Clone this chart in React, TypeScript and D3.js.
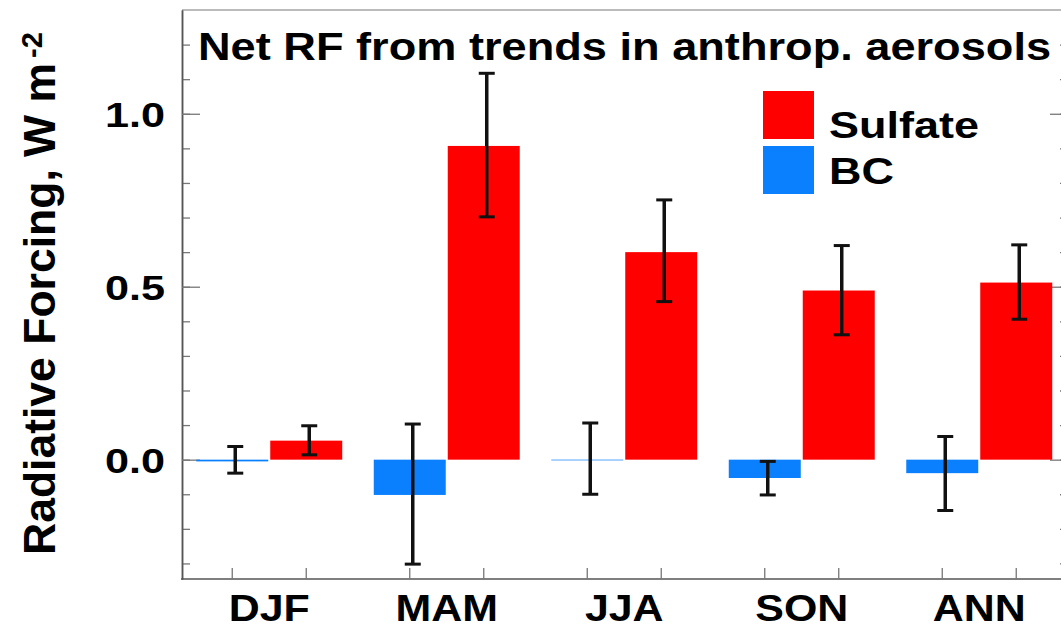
import { useRef, useEffect } from "react";
import * as d3 from "d3";

// seasons and series
const seasons = ["DJF", "MAM", "JJA", "SON", "ANN"];
const seriesNames = ["BC", "Sulfate"];
// values (W m-2), with error bar ends
const bcValues = [-0.005, -0.102, -0.002, -0.053, -0.039];
const bcHigh = [0.038, 0.103, 0.106, -0.005, 0.067];
const bcLow = [-0.039, -0.302, -0.1, -0.102, -0.147];
const sulfateValues = [0.055, 0.907, 0.6, 0.489, 0.512];
const sulfateHigh = [0.098, 1.117, 0.751, 0.619, 0.621];
const sulfateLow = [0.014, 0.702, 0.457, 0.361, 0.406];
const yTicks = [0, 0.5, 1.0];
const yTickLabels = ["0.0", "0.5", "1.0"];
const title = "Net RF from trends in anthrop. aerosols";
const yLabel = "Radiative Forcing, W m";
const yLabelSup = "-2";

const colors: Record<string, string> = { BC: "#0a80ff", Sulfate: "#ff0000" };
const font = "'Liberation Sans', Arial, Helvetica, sans-serif";

const App = () => {
  const svgRef = useRef<SVGSVGElement>(null);

  useEffect(() => {
    const svg = d3.select(svgRef.current);
    svg.selectAll("*").remove();
    const left = 182;
    const right = 1068;
    const top = 10;
    const bottom = 579;

    // scales
    const y = d3.scaleLinear().domain([-0.345, 1.3]).range([bottom, top]);
    const x0 = d3.scaleBand().domain(seasons).range([180.5, 1068]);
    const x1 = d3
      .scaleBand()
      .domain(seriesNames)
      .range([0, x0.bandwidth()])
      .paddingInner(0.027)
      .paddingOuter(0.213);

    const rows = seasons.flatMap((s, i) => [
      { season: s, key: "BC", v: bcValues[i], hi: bcHigh[i], lo: bcLow[i] },
      { season: s, key: "Sulfate", v: sulfateValues[i], hi: sulfateHigh[i], lo: sulfateLow[i] },
    ]);
    const cx = (d) => (x0(d.season) as number) + (x1(d.key) as number) + x1.bandwidth() / 2;

    // frame: top line
    svg
      .append("line")
      .attr("x1", left)
      .attr("x2", right)
      .attr("y1", top)
      .attr("y2", top)
      .attr("stroke", "#bbb")
      .attr("stroke-width", 2);

    // y axes (minor + major ticks, left and right)
    const minor = d3.range(-3, 13).map((d) => d / 10);
    const styleAxis = (g) => {
      g.selectAll("path").attr("stroke", "#555").attr("stroke-width", 1.5);
      g.selectAll("line").attr("stroke", "#777").attr("stroke-width", 1.3);
      g.selectAll("text").remove();
    };
    svg
      .append("g")
      .attr("transform", `translate(${left},0)`)
      .call(d3.axisLeft(y).tickValues(minor).tickSize(-8).tickSizeOuter(0))
      .call(styleAxis);
    svg
      .append("g")
      .attr("transform", `translate(${left},0)`)
      .call(d3.axisLeft(y).tickValues(yTicks).tickSize(-18).tickSizeOuter(0))
      .call(styleAxis);
    svg
      .append("g")
      .attr("transform", `translate(${right},0)`)
      .call(d3.axisRight(y).tickValues(minor).tickSize(-8).tickSizeOuter(0))
      .call(styleAxis);
    svg
      .append("g")
      .attr("transform", `translate(${right},0)`)
      .call(d3.axisRight(y).tickValues(yTicks).tickSize(-18).tickSizeOuter(0))
      .call(styleAxis);

    // bottom axis
    svg
      .append("line")
      .attr("x1", left - 1)
      .attr("x2", right)
      .attr("y1", bottom)
      .attr("y2", bottom)
      .attr("stroke", "#555")
      .attr("stroke-width", 1.5);
    svg
      .selectAll(".xtick")
      .data(rows)
      .join("line")
      .attr("x1", cx)
      .attr("x2", cx)
      .attr("y1", bottom)
      .attr("y2", bottom - 11)
      .attr("stroke", "#777")
      .attr("stroke-width", 1.3);

    // bars
    svg
      .selectAll(".bar")
      .data(rows)
      .join("rect")
      .attr("x", (d) => (x0(d.season) as number) + (x1(d.key) as number))
      .attr("width", x1.bandwidth())
      .attr("y", (d) => y(Math.max(0, d.v)))
      .attr("height", (d) => Math.abs(y(d.v) - y(0)))
      .attr("fill", (d) => colors[d.key]);

    // error bars
    const eb = svg.append("g").attr("stroke", "#111");
    eb.selectAll(".stem")
      .data(rows)
      .join("line")
      .attr("x1", (d) => cx(d) + 3)
      .attr("x2", (d) => cx(d) + 3)
      .attr("y1", (d) => y(d.hi))
      .attr("y2", (d) => y(d.lo))
      .attr("stroke-width", 3.5);
    ["hi", "lo"].forEach((k) => {
      eb.selectAll(`.cap-${k}`)
        .data(rows)
        .join("line")
        .attr("x1", (d) => cx(d) + 3 - 8)
        .attr("x2", (d) => cx(d) + 3 + 8)
        .attr("y1", (d) => y(d[k]))
        .attr("y2", (d) => y(d[k]))
        .attr("stroke-width", 3);
    });

    // text
    const txt = svg.append("g").attr("font-family", font).attr("font-weight", "bold").attr("fill", "#000");

    // y tick labels
    txt
      .selectAll(".ylab")
      .data(yTicks)
      .join("text")
      .attr("transform", (d) => `translate(165,${y(d) + 13}) scale(1.2,1)`)
      .attr("text-anchor", "end")
      .attr("font-size", 36)
      .text((d, i) => yTickLabels[i]);

    // x labels
    txt
      .selectAll(".xlab")
      .data(seasons)
      .join("text")
      .attr("transform", (d) => `translate(${(x0(d) as number) + x0.bandwidth() / 2},621) scale(1.16,1)`)
      .attr("text-anchor", "middle")
      .attr("font-size", 37)
      .text((d) => d);

    // title
    txt
      .append("text")
      .attr("transform", "translate(198,60) scale(1.158,1)")
      .attr("font-size", 39)
      .text(title);

    // y axis label
    const yl = txt
      .append("text")
      .attr("transform", "translate(55,555) rotate(-90)")
      .attr("font-size", 44.5);
    yl.append("tspan").text(yLabel);
    yl.append("tspan").attr("dy", -13).attr("dx", 5).attr("font-size", 29).text(yLabelSup);

    // legend
    const legendKeys = ["Sulfate", "BC"];
    svg
      .append("g")
      .selectAll("rect")
      .data(legendKeys)
      .join("rect")
      .attr("x", 763)
      .attr("y", (d, i) => 91 + i * 55)
      .attr("width", 51)
      .attr("height", 48)
      .attr("fill", (d) => colors[d]);
    txt
      .selectAll(".leg")
      .data(legendKeys)
      .join("text")
      .attr("transform", (d, i) => `translate(829,${138 + i * 46}) scale(1.25,1)`)
      .attr("font-size", 36)
      .text((d) => d);
  }, []);

  return (
    <svg
      ref={svgRef}
      width={1061}
      height={630}
      style={{ position: "absolute", left: 0, top: 0, background: "#fff" }}
    />
  );
};

export default App;
